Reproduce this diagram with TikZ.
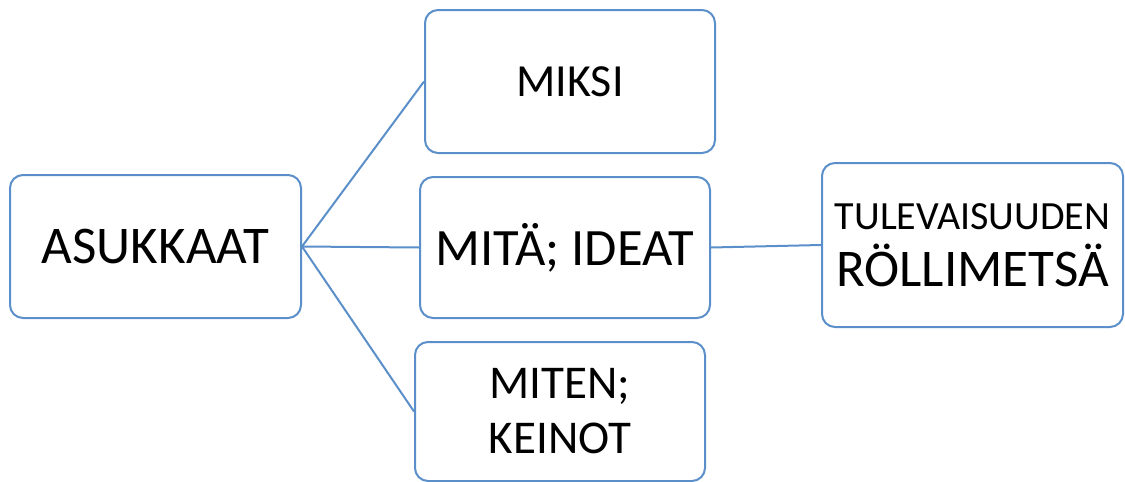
\documentclass[tikz,border=0pt]{standalone}
\usepackage{fontspec}
\setmainfont{Carlito}
\definecolor{boxblue}{RGB}{91,143,201}
\begin{document}
\begin{tikzpicture}[x=1pt,y=-1pt,
	every node/.style={draw=boxblue,line width=2pt,rounded corners=13pt,align=center,inner sep=0},
	link/.style={draw=boxblue,line width=2pt}]
\useasboundingbox (0,0) rectangle (1125,482);
\node[minimum width=291pt,minimum height=143pt,font=\fontsize{53}{58}\selectfont] (asukkaat) at (155.5,246.5) {ASUKKAAT};
\node[minimum width=290pt,minimum height=143pt,font=\fontsize{46}{50}\selectfont] (miksi) at (570,81.5) {MIKSI};
\node[minimum width=290pt,minimum height=141pt,font=\fontsize{52.5}{58}\selectfont] (mita) at (565,247.5) {MITÄ; IDEAT};
\node[minimum width=290pt,minimum height=139pt,font=\fontsize{47}{55}\selectfont] (miten) at (560,411.5) {MITEN;\\KEINOT};
\node[minimum width=301pt,minimum height=164pt,font=\fontsize{40}{57}\selectfont] (tulevaisuus) at (972.5,245)
	{TULEVAISUUDEN\\{\fontsize{53}{57}\selectfont RÖLLIMETSÄ}};
\draw[link] (asukkaat.east) -- (miksi.west);
\draw[link] (asukkaat.east) -- (mita.west);
\draw[link] (asukkaat.east) -- (miten.west);
\draw[link] (mita.east) -- (tulevaisuus.west);
\end{tikzpicture}
\end{document}
